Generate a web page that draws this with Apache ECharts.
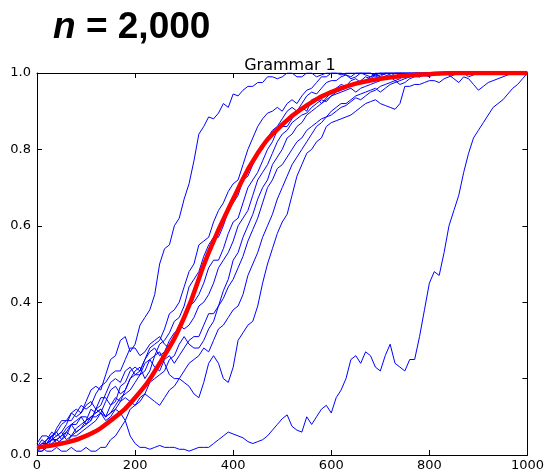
<!DOCTYPE html>
<html><head><meta charset="utf-8">
<script src="https://cdn.jsdelivr.net/npm/echarts@6/dist/echarts.min.js"></script>
<style>html,body{margin:0;padding:0;background:#fff}#c{width:547px;height:472px}</style>
</head><body><div id="c"></div>
<script>
// generations 0..1000, step 10, shared by the blue runs
const xs = Array.from({length:101}, (_, i) => i * 10);
const runA = [0.03,0.05,0.05,0.04,0.07,0.09,0.09,0.11,0.12,0.11,
 0.14,0.17,0.18,0.17,0.21,0.25,0.26,0.30,0.31,0.27,
 0.29,0.34,0.36,0.38,0.42,0.50,0.54,0.55,0.60,0.62,
 0.67,0.71,0.77,0.84,0.86,0.885,0.88,0.895,0.92,0.91,
 0.945,0.94,0.955,0.965,0.965,0.975,0.975,0.99,0.99,0.985,
 0.99,1.0,1.0,0.99,0.99,1.0,1.0,0.99,0.995,1.0,
 1.0,1.0,1.0,0.995,0.99,1.0,1.0,1.0,1.0,0.99,
 0.995,1.0,1.0,1.0,1.0,0.995,0.99,1.0,1.0,1.0,
 1.0,1.0,1.0,1.0,0.995,0.985,0.975,0.99,0.985,0.97,
 0.955,0.965,0.975,0.98,0.985,0.99,0.995,1.0,1.0,1.0,
 1.0];
const runC = [0.02,0.04,0.03,0.05,0.06,0.04,0.05,0.08,0.08,0.10,
 0.10,0.09,0.12,0.15,0.15,0.13,0.14,0.18,0.19,0.22,
 0.23,0.22,0.25,0.28,0.29,0.30,0.33,0.37,0.38,0.40,
 0.44,0.48,0.50,0.55,0.56,0.57,0.61,0.64,0.66,0.69,
 0.71,0.72,0.76,0.80,0.83,0.86,0.88,0.895,0.90,0.91,
 0.90,0.92,0.93,0.92,0.94,0.955,0.96,0.975,0.99,0.99,
 1.0,1.0,0.995,1.0,1.0,1.0,1.0,0.995,0.99,1.0,
 1.0,1.0,1.0,1.0,1.0,1.0,1.0,1.0,1.0,1.0,
 1.0,1.0,1.0,1.0,1.0,1.0,1.0,1.0,1.0,1.0,
 1.0,1.0,1.0,1.0,1.0,1.0,1.0,1.0,1.0,1.0,
 1.0];
const runD = [0.01,0.01,0.02,0.04,0.04,0.05,0.07,0.08,0.06,0.07,
 0.09,0.12,0.11,0.12,0.10,0.13,0.15,0.14,0.17,0.20,
 0.22,0.23,0.20,0.22,0.26,0.29,0.30,0.32,0.35,0.36,
 0.39,0.44,0.46,0.48,0.52,0.55,0.57,0.57,0.60,0.64,
 0.66,0.68,0.72,0.73,0.76,0.79,0.80,0.83,0.85,0.86,
 0.88,0.90,0.91,0.90,0.92,0.94,0.95,0.945,0.96,0.975,
 0.98,0.98,0.99,0.995,0.985,0.99,1.0,1.0,1.0,0.995,
 0.99,1.0,1.0,1.0,1.0,1.0,1.0,1.0,1.0,1.0,
 1.0,1.0,1.0,1.0,1.0,1.0,1.0,1.0,1.0,1.0,
 1.0,1.0,1.0,1.0,1.0,1.0,1.0,1.0,1.0,1.0,
 1.0];
const runE = [0.02,0.02,0.04,0.06,0.05,0.06,0.08,0.11,0.10,0.11,
 0.13,0.14,0.12,0.13,0.16,0.19,0.20,0.19,0.22,0.23,
 0.21,0.22,0.25,0.27,0.28,0.26,0.27,0.30,0.32,0.33,
 0.36,0.39,0.40,0.42,0.45,0.49,0.51,0.51,0.54,0.58,
 0.61,0.62,0.66,0.70,0.72,0.74,0.77,0.80,0.82,0.85,
 0.86,0.86,0.88,0.90,0.91,0.90,0.93,0.935,0.92,0.935,
 0.95,0.96,0.97,0.965,0.98,0.985,0.975,0.98,0.99,0.995,
 1.0,1.0,0.995,0.99,1.0,1.0,1.0,1.0,1.0,1.0,
 1.0,1.0,1.0,1.0,1.0,1.0,1.0,1.0,1.0,1.0,
 1.0,1.0,1.0,1.0,1.0,1.0,1.0,1.0,1.0,1.0,
 1.0];
const runF = [0.02,0.03,0.03,0.05,0.06,0.08,0.09,0.09,0.11,0.13,
 0.12,0.13,0.16,0.18,0.19,0.21,0.22,0.22,0.25,0.28,
 0.28,0.26,0.27,0.29,0.30,0.31,0.29,0.28,0.31,0.34,
 0.33,0.34,0.36,0.39,0.40,0.42,0.45,0.49,0.51,0.53,
 0.56,0.60,0.62,0.64,0.68,0.72,0.74,0.76,0.79,0.82,
 0.84,0.85,0.87,0.88,0.89,0.895,0.91,0.92,0.93,0.925,
 0.94,0.945,0.95,0.955,0.96,0.95,0.96,0.965,0.97,0.975,
 0.98,0.99,0.99,0.98,0.985,0.995,1.0,0.995,0.99,1.0,
 1.0,1.0,1.0,1.0,1.0,1.0,1.0,1.0,1.0,1.0,
 1.0,1.0,1.0,1.0,1.0,1.0,1.0,1.0,1.0,1.0,
 1.0];
const runG = [0.01,0.02,0.01,0.01,0.02,0.01,0.01,0.02,0.01,0.01,
 0.02,0.01,0.01,0.02,0.02,0.04,0.05,0.07,0.09,0.12,
 0.13,0.14,0.16,0.19,0.20,0.21,0.22,0.25,0.26,0.29,
 0.31,0.29,0.28,0.28,0.30,0.33,0.35,0.39,0.43,0.46,
 0.51,0.53,0.57,0.60,0.63,0.67,0.70,0.72,0.76,0.78,
 0.80,0.83,0.84,0.86,0.87,0.89,0.90,0.91,0.92,0.93,
 0.94,0.95,0.955,0.96,0.97,0.975,0.98,0.99,0.985,0.995,
 1.0,0.995,0.99,1.0,1.0,1.0,1.0,1.0,1.0,1.0,
 1.0,1.0,1.0,1.0,1.0,1.0,1.0,1.0,1.0,1.0,
 1.0,1.0,1.0,1.0,1.0,1.0,1.0,1.0,1.0,1.0,
 1.0];
const runH = [0.02,0.03,0.04,0.05,0.03,0.04,0.06,0.08,0.09,0.10,
 0.08,0.09,0.12,0.11,0.14,0.17,0.18,0.16,0.17,0.20,
 0.21,0.21,0.24,0.25,0.23,0.22,0.25,0.26,0.24,0.26,
 0.28,0.30,0.31,0.31,0.34,0.37,0.37,0.39,0.41,0.44,
 0.46,0.49,0.52,0.56,0.59,0.62,0.66,0.70,0.72,0.75,
 0.76,0.78,0.80,0.82,0.83,0.85,0.86,0.87,0.88,0.885,
 0.89,0.90,0.91,0.915,0.925,0.935,0.93,0.94,0.95,0.955,
 0.965,0.97,0.975,0.98,0.97,0.975,0.985,0.99,0.99,0.995,
 1.0,1.0,0.995,1.0,1.0,1.0,1.0,1.0,1.0,1.0,
 1.0,1.0,1.0,1.0,1.0,1.0,1.0,1.0,1.0,1.0,
 1.0];
const runI = [0.02,0.02,0.03,0.04,0.05,0.06,0.04,0.05,0.07,0.08,
 0.09,0.10,0.11,0.12,0.10,0.11,0.13,0.15,0.16,0.17,
 0.19,0.21,0.22,0.25,0.26,0.27,0.24,0.21,0.20,0.20,
 0.22,0.24,0.25,0.26,0.28,0.27,0.30,0.33,0.34,0.36,
 0.38,0.39,0.42,0.47,0.50,0.53,0.57,0.60,0.63,0.67,
 0.70,0.73,0.76,0.78,0.80,0.82,0.84,0.86,0.87,0.885,
 0.90,0.91,0.92,0.92,0.93,0.94,0.945,0.95,0.955,0.96,
 0.95,0.96,0.97,0.975,0.98,0.985,0.99,0.995,1.0,0.995,
 0.99,1.0,1.0,1.0,1.0,1.0,1.0,1.0,1.0,1.0,
 1.0,1.0,1.0,1.0,1.0,1.0,1.0,1.0,1.0,1.0,
 1.0];
const runB = [0.01,0.01,0.02,0.03,0.04,0.03,0.03,0.05,0.06,0.07,
 0.08,0.10,0.10,0.11,0.09,0.10,0.12,0.14,0.15,0.14,
 0.13,0.15,0.16,0.15,0.14,0.13,0.15,0.17,0.18,0.20,
 0.19,0.18,0.16,0.15,0.19,0.24,0.26,0.24,0.20,0.19,
 0.23,0.30,0.32,0.34,0.35,0.39,0.45,0.50,0.54,0.58,
 0.61,0.63,0.68,0.73,0.76,0.79,0.80,0.82,0.83,0.86,
 0.87,0.875,0.88,0.885,0.89,0.90,0.91,0.92,0.925,0.93,
 0.92,0.915,0.91,0.905,0.92,0.965,0.965,0.97,0.97,0.975,
 0.98,0.98,0.975,0.985,0.99,0.995,1.0,1.0,0.99,0.995,
 1.0,1.0,1.0,1.0,1.0,1.0,1.0,1.0,1.0,1.0,
 1.0];
const runJ = [0.02,0.02,0.03,0.04,0.04,0.05,0.06,0.05,0.05,0.06,
 0.07,0.08,0.09,0.11,0.10,0.11,0.12,0.11,0.09,0.05,
 0.03,0.02,0.02,0.015,0.02,0.025,0.02,0.02,0.02,0.015,
 0.015,0.01,0.015,0.02,0.02,0.02,0.03,0.04,0.05,0.06,
 0.055,0.05,0.045,0.035,0.03,0.035,0.04,0.05,0.065,0.08,
 0.095,0.105,0.075,0.065,0.06,0.10,0.08,0.10,0.12,0.13,
 0.11,0.15,0.17,0.20,0.25,0.26,0.24,0.27,0.26,0.23,
 0.22,0.26,0.29,0.24,0.23,0.22,0.25,0.25,0.31,0.38,
 0.45,0.48,0.47,0.53,0.60,0.64,0.68,0.74,0.79,0.83,
 0.85,0.87,0.89,0.91,0.92,0.93,0.945,0.96,0.97,0.985,
 1.0];
const blueRuns = [runA, runC, runD, runE, runF, runG, runH, runI, runB, runJ];
// expected trajectory (red)
const meanX = [0,50,100,150,200,250,300,350,400,450,500,550,600,650,700,750,800,850,900,950,1000];
const meanY = [0.02,0.03,0.05,0.09,0.15,0.24,0.36,0.53,0.67,0.79,0.865,0.915,0.95,0.972,0.985,0.993,0.997,1.0,1.0,1.0,1.0];

const chart = echarts.init(document.getElementById('c'));
const tickFont = {fontFamily:'DejaVu Sans', fontSize:13, color:'#000'};
const series = blueRuns.map(r => ({
  type:'line', data: xs.map((x,i)=>[x,r[i]]), showSymbol:false, symbol:'none',
  lineStyle:{color:'#0000ff', width:1}, z:2, animation:false
}));
series.push({type:'line', data: meanX.map((x,i)=>[x,meanY[i]]), smooth:true, showSymbol:false, symbol:'none',
  lineStyle:{color:'#ff0000', width:4.5}, z:5, animation:false});
function ax(extra){
  return Object.assign({type:'value', min:0, splitLine:{show:false},
    axisLine:{show:true, onZero:false, lineStyle:{color:'#000', width:1}},
    axisTick:{show:true, inside:true, length:5, lineStyle:{color:'#000'}}}, extra);
}
chart.setOption({
  animation:false,
  title:[
    {text:'{i|n} = 2,000', left:48, top:4, textStyle:{fontFamily:'Liberation Sans', fontWeight:'bold', fontSize:37, color:'#000',
      rich:{i:{fontFamily:'Liberation Sans', fontWeight:'bold', fontStyle:'italic', fontSize:37, color:'#000'}}}},
    {text:'Grammar 1', left:285, top:53, textAlign:'center', textStyle:{fontFamily:'DejaVu Sans', fontWeight:'normal', fontSize:16, color:'#000'}}
  ],
  grid:{left:37, right:16, top:73, bottom:17, containLabel:false},
  xAxis:[
    ax({max:1000, interval:200, position:'bottom', axisLabel:Object.assign({}, tickFont, {margin:4, formatter:v=>String(v)})}),
    ax({max:1000, interval:200, position:'top', axisLabel:{show:false}})
  ],
  yAxis:[
    ax({max:1, interval:0.2, position:'left', axisLabel:Object.assign({}, tickFont, {margin:6, formatter:v=>v.toFixed(1)})}),
    ax({max:1, interval:0.2, position:'right', axisLabel:{show:false}})
  ],
  series: series
});
</script></body></html>
